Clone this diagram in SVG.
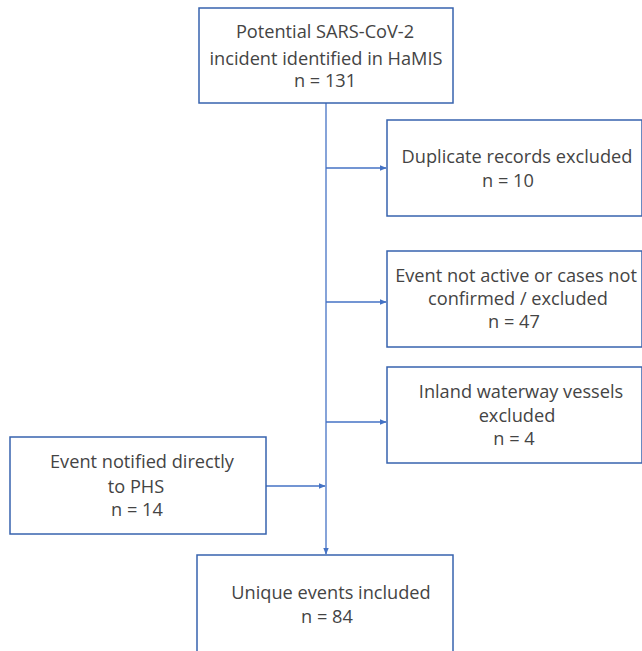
<svg xmlns="http://www.w3.org/2000/svg" width="642" height="651" viewBox="0 0 642 651">
<style>
.box{fill:#fff;stroke:#3763AE;stroke-width:1.5}
.t{font-family:"Open Sans","Noto Sans",sans-serif;font-size:18.2px;fill:#444;text-anchor:middle}
.c{fill:none;stroke:#4472C4;stroke-width:1.3}
</style>
<defs>
<marker id="ah" viewBox="0 0 10 10" refX="9" refY="5" markerWidth="7" markerHeight="7" markerUnits="userSpaceOnUse" orient="auto">
<path d="M0,1 L10,5 L0,9 Z" fill="#4472C4"/>
</marker>
</defs>
<rect width="642" height="651" fill="#fff"/>
<g id="connectors">
<line class="c" x1="326" y1="102" x2="326" y2="554" marker-end="url(#ah)"/>
<line class="c" x1="326" y1="168" x2="386" y2="168" marker-end="url(#ah)"/>
<line class="c" x1="326" y1="302" x2="386" y2="302" marker-end="url(#ah)"/>
<line class="c" x1="326" y1="422" x2="386" y2="422" marker-end="url(#ah)"/>
<line class="c" x1="263" y1="486" x2="325" y2="486" marker-end="url(#ah)"/>
</g>
<g id="start">
<rect class="box" x="199" y="8" width="254" height="95"/>
<text class="t" x="325" y="38">Potential SARS-CoV-2</text>
<text class="t" x="326" y="65">incident identified in HaMIS</text>
<text class="t" x="325" y="87">n = 131</text>
</g>
<g id="duplicate">
<rect class="box" x="387" y="120" width="255" height="96"/>
<text class="t" x="517" y="163">Duplicate records excluded</text>
<text class="t" x="508" y="187">n = 10</text>
</g>
<g id="notactive">
<rect class="box" x="387" y="251" width="255" height="96"/>
<text class="t" x="516" y="282">Event not active or cases not</text>
<text class="t" x="518" y="305">confirmed / excluded</text>
<text class="t" x="514" y="328">n = 47</text>
</g>
<g id="inland">
<rect class="box" x="387" y="367" width="255" height="96"/>
<text class="t" x="521" y="398">Inland waterway vessels</text>
<text class="t" x="517" y="422">excluded</text>
<text class="t" x="514" y="445">n = 4</text>
</g>
<g id="phs">
<rect class="box" x="10" y="437" width="256" height="97"/>
<text class="t" x="142" y="468">Event notified directly</text>
<text class="t" x="136" y="493">to PHS</text>
<text class="t" x="137" y="516">n = 14</text>
</g>
<g id="unique">
<rect class="box" x="197" y="555" width="256" height="110"/>
<text class="t" x="331" y="599">Unique events included</text>
<text class="t" x="327" y="623">n = 84</text>
</g>
</svg>
